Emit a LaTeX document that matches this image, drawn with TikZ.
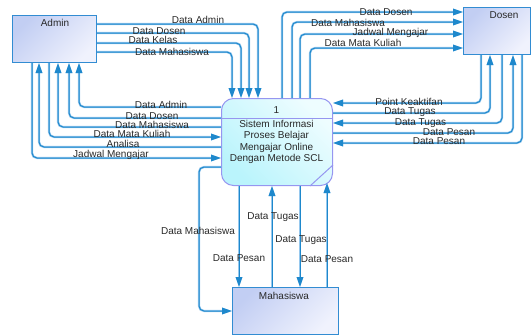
\documentclass[tikz,border=0pt]{standalone}
\usepackage{fontspec}
\setmainfont{Liberation Sans}
\usetikzlibrary{arrows.meta}

\definecolor{flowc}{RGB}{30,136,204}
\definecolor{haloc}{RGB}{150,200,238}
\definecolor{entline}{RGB}{50,140,210}
\definecolor{entdark}{RGB}{194,206,243}
\definecolor{entlight}{RGB}{240,242,253}
\definecolor{procline}{RGB}{150,150,240}
\definecolor{procdark}{RGB}{186,244,252}
\definecolor{proclight}{RGB}{238,253,255}
\definecolor{txt}{RGB}{40,40,40}

\tikzset{
  entity/.style={draw=entline, line width=1pt, rectangle,
    top color=entdark, bottom color=entlight, shading angle=45,
    anchor=north west, inner sep=0pt},
  process/.style={draw=procline, line width=1pt, rectangle, rounded corners=12pt,
    top color=proclight, bottom color=procdark, shading angle=-45,
    anchor=north west, inner sep=0pt},
  flow/.style={draw=flowc, line width=1pt, rounded corners=5pt,
    preaction={draw=haloc, line width=2.2pt}},
  arr/.style={-{Triangle[length=10pt,width=6.5pt]}},
  lbl/.style={font=\fontsize{10}{12}\selectfont, text=txt, inner sep=0pt,
    text height=7pt, text depth=0pt},
  title/.style={font=\fontsize{10}{12}\selectfont, text=txt, inner sep=0pt}
}

\begin{document}
\begin{tikzpicture}[x=1pt, y=-1pt]
\useasboundingbox (0,0) rectangle (531,335);

% external entities
\node[entity, minimum width=84pt, minimum height=47pt] (admin) at (12,15) {};
\node[title] (admint) at (55,23) {Admin};
\node[entity, minimum width=67pt, minimum height=47pt] (dosen) at (463,7) {};
\node[title] (dosent) at (504,15) {Dosen};
\node[entity, minimum width=106pt, minimum height=47pt] (mhs) at (232,287) {};
\node[title] (mhst) at (284,296) {Mahasiswa};

% process
\node[process, minimum width=111pt, minimum height=87pt] (p) at (221,98) {};
\draw[draw=procline, line width=1pt] (p.west |- 0,118) -- (p.east |- 0,118);
\draw[draw=procline, line width=1pt] (p.south -| 310,0) -- (p.east |- 0,165);
\node[title] (pnum) at (276.5,110) {1};
\node[title, align=center, font=\fontsize{10}{11.4}\selectfont] (pname) at (276.5,142)
  {Sistem Informasi\\Proses Belajar\\Mengajar Online\\Dengan Metode SCL};

% Admin -> process (top)
\draw[flow,arr] (admin.east |- 0,24) -| (p.north -| 258,0);
\draw[flow,arr] (admin.east |- 0,33) -| (p.north -| 249,0);
\draw[flow,arr] (admin.east |- 0,43) -| (p.north -| 241,0);
\draw[flow,arr] (admin.east |- 0,52) -| (p.north -| 232,0);
\node[lbl] (l1) at (198,20) {Data Admin};
\node[lbl] (l2) at (159,31) {Data Dosen};
\node[lbl] (l3) at (153,40) {Data Kelas};
\node[lbl] (l4) at (172,52) {Data Mahasiswa};

% process <-> Admin (bottom)
\draw[flow,arr] (p.west |- 0,107) -| (admin.south -| 79,0);
\draw[flow,arr] (p.west |- 0,118) -| (admin.south -| 69,0);
\draw[flow,arr] (p.west |- 0,127) -| (admin.south -| 58,0);
\draw[flow,arr] (admin.south -| 49,0) |- (p.west |- 0,137);
\draw[flow,arr] (p.west |- 0,147) -| (admin.south -| 39,0);
\draw[flow,arr] (admin.south -| 32,0) |- (p.west |- 0,158);
\node[lbl] (l5) at (161,105) {Data Admin};
\node[lbl] (l6) at (152,116) {Data Dosen};
\node[lbl] (l7) at (152,125) {Data Mahasiswa};
\node[lbl] (l8) at (132,134) {Data Mata Kuliah};
\node[lbl] (l9) at (123,144) {Analisa};
\node[lbl] (l10) at (111,154) {Jadwal Mengajar};

% process -> Dosen (top)
\draw[flow,arr] (p.north -| 282,0) |- (dosen.west |- 0,12);
\draw[flow,arr] (p.north -| 292,0) |- (dosen.west |- 0,22);
\draw[flow,arr] (p.north -| 300,0) |- (dosen.west |- 0,34);
\draw[flow,arr] (p.north -| 310,0) |- (dosen.west |- 0,48);
\node[lbl] (l11) at (386,12) {Data Dosen};
\node[lbl] (l12) at (348,23) {Data Mahasiswa};
\node[lbl] (l13) at (390.5,32) {Jadwal Mengajar};
\node[lbl] (l14) at (363,43) {Data Mata Kuliah};

% Dosen <-> process (bottom)
\draw[flow,arr] (dosen.south -| 481,0) |- (p.east |- 0,103);
\draw[flow,arr] (p.east |- 0,113) -| (dosen.south -| 490,0);
\draw[flow,arr] (dosen.south -| 502,0) |- (p.east |- 0,123);
\draw[flow,arr] (p.east |- 0,133) -| (dosen.south -| 513,0);
\draw[flow,arr] (dosen.south -| 522,0) |- (p.east |- 0,143);
\node[lbl] (l15) at (409,102) {Point Keaktifan};
\node[lbl] (l16) at (410,111) {Data Tugas};
\node[lbl] (l17) at (420.5,122) {Data Tugas};
\node[lbl] (l18) at (449,132) {Data Pesan};
\node[lbl] (l19) at (439,141) {Data Pesan};

% process <-> Mahasiswa
\draw[flow,arr] (p.west |- 0,167) -| (199,311) -- (mhs.west |- 0,311);
\draw[flow,arr] (p.south -| 239,0) -- (mhs.north -| 239,0);
\draw[flow,arr] (mhs.north -| 272,0) -- (p.south -| 272,0);
\draw[flow,arr] (p.south -| 300,0) -- (mhs.north -| 300,0);
\draw[flow,arr] (mhs.north -| 327,0) -- (327,183);
\node[lbl] (l20) at (198,231) {Data Mahasiswa};
\node[lbl] (l21) at (239,258) {Data Pesan};
\node[lbl] (l22) at (273,216) {Data Tugas};
\node[lbl] (l23) at (301,239) {Data Tugas};
\node[lbl] (l24) at (327,259) {Data Pesan};
\end{tikzpicture}
\end{document}
